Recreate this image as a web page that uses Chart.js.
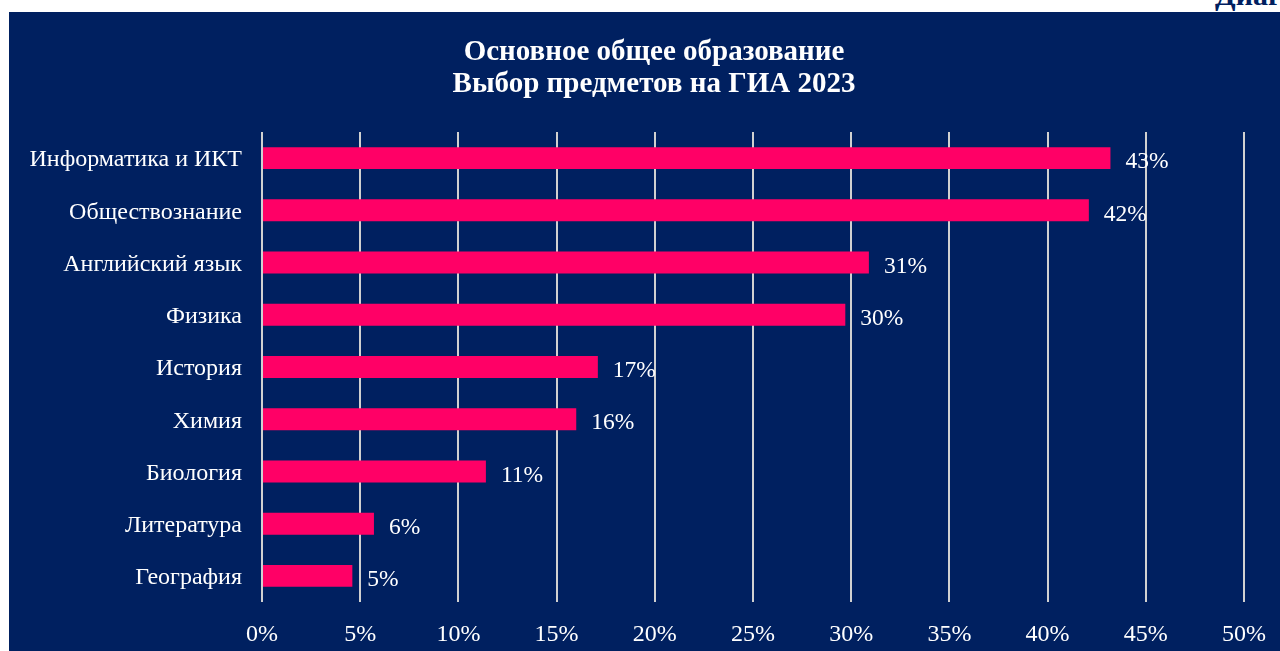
<!DOCTYPE html>
<html>
<head>
<meta charset="utf-8">
<script src="https://cdn.jsdelivr.net/npm/chart.js@4/dist/chart.umd.min.js"></script>
<style>
  html, body { margin: 0; padding: 0; background: #fff; width: 1280px; height: 651px; overflow: hidden; }
  #corner { position: absolute; left: 1215px; top: -22px; font: bold 30px "Liberation Serif", "Times New Roman", serif; color: #002060; white-space: nowrap; }
  #box { position: absolute; left: 9px; top: 12px; width: 1271px; height: 639px; background: #002060; }
</style>
</head>
<body>
<div id="corner">Диаграмма</div>
<div id="box"><canvas id="giaChart" width="1271" height="639"></canvas></div>
<script>
// предметы и доля выбравших (%)
const subjects = [
  "Информатика и ИКТ",
  "Обществознание",
  "Английский язык",
  "Физика",
  "История",
  "Химия",
  "Биология",
  "Литература",
  "География",
]
const shares = [43.2, 42.1, 30.9, 29.7, 17.1, 16.0, 11.4, 5.7, 4.6]
const titleLines = ["Основное общее образование", "Выбор предметов на ГИА 2023"]

const serif = "'Liberation Serif', 'Times New Roman', serif"

// заголовок в две строки, центр чуть правее середины
const chartTitle = {
  id: "chartTitle",
  afterDraw(chart) {
    const ctx = chart.ctx
    ctx.save()
    ctx.fillStyle = "#ffffff"
    ctx.font = "bold 29px " + serif
    ctx.textAlign = "center"
    ctx.textBaseline = "middle"
    titleLines.forEach((line, i) => {
      ctx.fillText(line, 645, 41 + i * 32)
    })
    ctx.restore()
  },
}

// подписи значений справа от столбцов
const barLabels = {
  id: "barLabels",
  afterDatasetsDraw(chart) {
    const ctx = chart.ctx
    const meta = chart.getDatasetMeta(0)
    ctx.save()
    ctx.fillStyle = "#ffffff"
    ctx.font = "23.5px " + serif
    ctx.textAlign = "left"
    ctx.textBaseline = "middle"
    meta.data.forEach((bar, i) => {
      ctx.fillText(Math.round(shares[i]) + "%", bar.x + 15, bar.y + 4)
    })
    ctx.restore()
  },
}

const ctx = document.getElementById("giaChart").getContext("2d")
new Chart(ctx, {
  type: "bar",
  data: {
    labels: subjects,
    datasets: [
      {
        data: shares,
        backgroundColor: "#FF0066",
        barPercentage: 0.42,
        categoryPercentage: 1,
      },
    ],
  },
  options: {
    indexAxis: "y",
    responsive: false,
    animation: false,
    layout: { padding: { left: 0, right: 36, top: 120, bottom: 0 } },
    plugins: {
      legend: { display: false },
      tooltip: { enabled: false },
      title: { display: false },
    },
    scales: {
      x: {
        min: 0,
        max: 50,
        ticks: {
          stepSize: 5,
          color: "#ffffff",
          font: { family: serif, size: 24 },
          padding: 18,
          callback: (v) => v + "%",
        },
        grid: { color: "#D0D0D0", lineWidth: 2, drawTicks: false },
        border: { display: false },
        afterFit: (scale) => {
          scale.height = 49
          scale.paddingLeft = 0
          scale.paddingRight = 0
        },
      },
      y: {
        ticks: {
          color: "#ffffff",
          font: { family: serif, size: 24 },
          padding: 12,
          labelOffset: 2,
        },
        grid: { display: false },
        border: { display: false },
        afterFit: (scale) => { scale.width = 253 },
      },
    },
  },
  plugins: [barLabels, chartTitle],
})
</script>
</body>
</html>
